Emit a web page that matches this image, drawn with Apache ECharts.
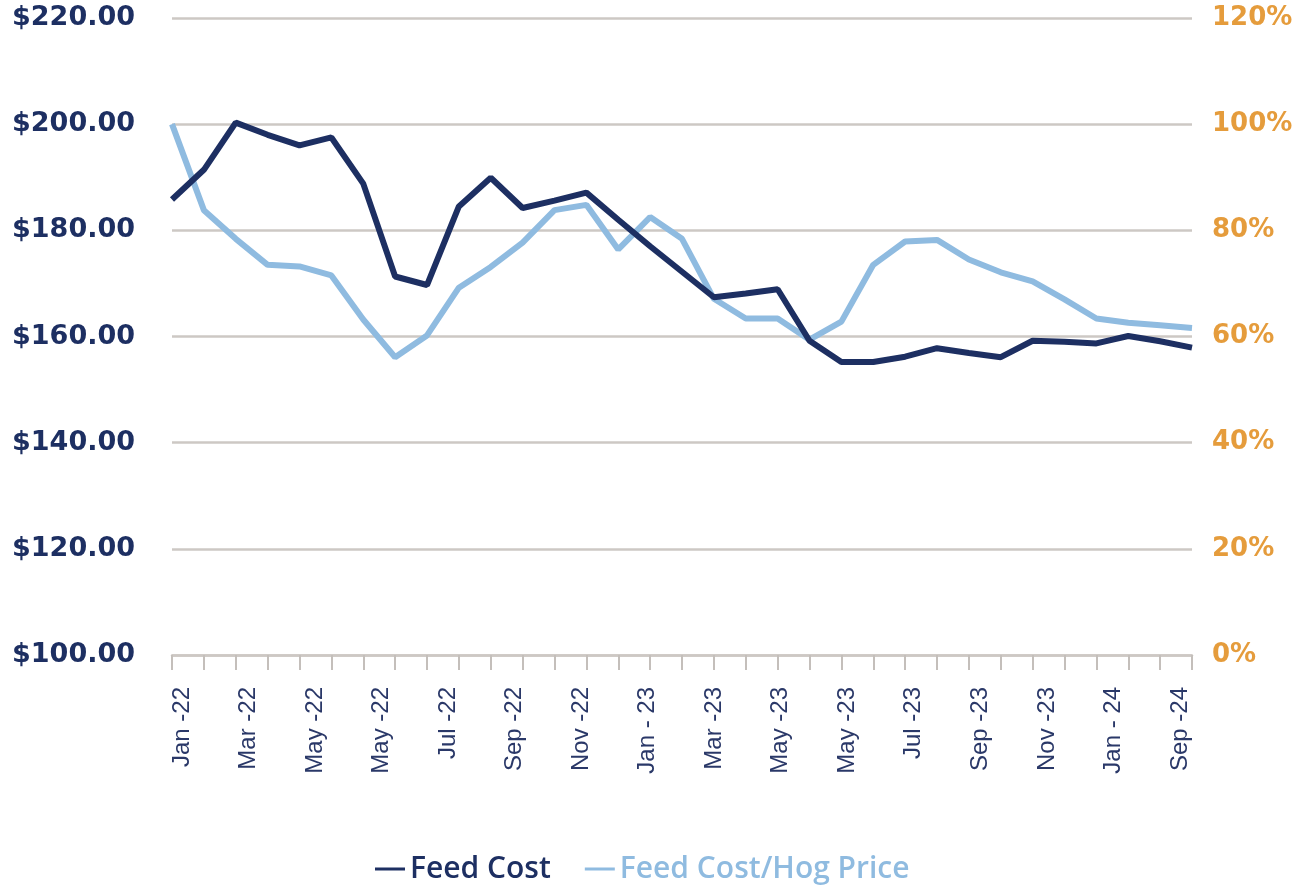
<!DOCTYPE html>
<html>
<head>
<meta charset="utf-8">
<script src="https://cdn.jsdelivr.net/npm/echarts@6/dist/echarts.min.js"></script>
<style>
html,body{margin:0;padding:0;background:#ffffff;}
#chart{width:1308px;height:889px;}
</style>
</head>
<body>
<div id="chart"></div>
<script>
// Monthly categories (Jan 2022 - Sep 2024)
const months = [
  'Jan-22','Feb-22','Mar-22','Apr-22','May-22','Jun-22','Jul-22','Aug-22','Sep-22','Oct-22','Nov-22','Dec-22',
  'Jan-23','Feb-23','Mar-23','Apr-23','May-23','Jun-23','Jul-23','Aug-23','Sep-23','Oct-23','Nov-23','Dec-23',
  'Jan-24','Feb-24','Mar-24','Apr-24','May-24','Jun-24','Jul-24','Aug-24','Sep-24'
];
// Tick labels as printed on the reference
const tickLabels = [
  'Jan -22','Mar -22','May -22','May -22','Jul -22','Sep -22','Nov -22','Jan - 23',
  'Mar -23','May -23','May -23','Jul -23','Sep -23','Nov -23','Jan - 24','Sep -24'
];
// Feed cost ($)
const feedCost = [
  185.8,191.4,200.3,198.0,196.0,197.5,188.8,171.3,169.7,184.5,189.9,184.2,
  185.6,187.1,182.0,177.0,172.2,167.4,168.1,168.9,159.2,155.2,155.2,156.2,
  157.8,156.9,156.1,159.2,159.0,158.7,160.1,159.1,157.9
];
// Feed cost / hog price (%)
const feedHogRatio = [
  100.0,83.8,78.4,73.5,73.2,71.5,63.2,56.1,60.2,69.2,73.1,77.7,
  83.8,84.8,76.4,82.5,78.4,67.1,63.4,63.4,59.4,62.8,73.5,77.9,
  78.2,74.5,72.1,70.4,67.0,63.4,62.6,62.1,61.6
];
const leftTicks = {min:100, max:220, interval:20};
const rightTicks = {min:0, max:120, interval:20};

const DARK = '#1d2f62';
const LIGHT = '#8fbbe0';
const ORANGE = '#e59c3c';
const GRID = '#cdc8c4';

const chart = echarts.init(document.getElementById('chart'), null, {renderer:'canvas'});
chart.setOption({
  animation:false,
  backgroundColor:'#ffffff',
  grid:[
    {left:172, right:116, top:18, bottom:234},
    {left:182, right:128, top:18, bottom:234}
  ],
  legend:{
    bottom:0, left:370,
    itemWidth:30, itemHeight:3, itemGap:34,
    icon:'rect',
    textStyle:{fontFamily:'Open Sans', fontWeight:600, fontSize:30, padding:[0,0,0,0]},
    data:[
      {name:'Feed Cost', textStyle:{color:DARK}},
      {name:'Feed Cost/Hog Price', textStyle:{color:LIGHT}}
    ]
  },
  xAxis:[
    {
      type:'category', gridIndex:0, data:months, boundaryGap:false,
      axisLine:{show:true, lineStyle:{color:GRID, width:2.5}},
      axisTick:{show:true, interval:0, length:15, lineStyle:{color:'#c4bfbb', width:2}},
      axisLabel:{show:false},
      splitLine:{show:false}
    },
    {
      type:'category', gridIndex:1, data:tickLabels, boundaryGap:false,
      axisLine:{show:false}, axisTick:{show:false}, splitLine:{show:false},
      axisLabel:{
        show:true, interval:0, rotate:90, margin:32,
        color:'#2a3868', fontFamily:'Liberation Sans', fontSize:24
      }
    }
  ],
  yAxis:[
    {
      type:'value', gridIndex:0, position:'left',
      min:leftTicks.min, max:leftTicks.max, interval:leftTicks.interval,
      axisLine:{show:false}, axisTick:{show:false},
      splitLine:{show:true, lineStyle:{color:GRID, width:2.5}},
      axisLabel:{
        margin:37, color:DARK, fontFamily:'DejaVu Sans', fontWeight:'bold', fontSize:27,
        formatter:v => '$' + v.toFixed(2)
      }
    },
    {
      type:'value', gridIndex:0, position:'right',
      min:rightTicks.min, max:rightTicks.max, interval:rightTicks.interval,
      axisLine:{show:false}, axisTick:{show:false}, splitLine:{show:false},
      axisLabel:{
        margin:20, color:ORANGE, fontFamily:'DejaVu Sans', fontWeight:'bold', fontSize:26,
        formatter:v => v + '%'
      }
    },
    {type:'value', gridIndex:1, show:false}
  ],
  series:[
    {
      name:'Feed Cost', type:'line', xAxisIndex:0, yAxisIndex:0,
      data:feedCost, symbol:'none', showSymbol:false,
      lineStyle:{color:DARK, width:6}, itemStyle:{color:DARK}, z:3
    },
    {
      name:'Feed Cost/Hog Price', type:'line', xAxisIndex:0, yAxisIndex:1,
      data:feedHogRatio, symbol:'none', showSymbol:false,
      lineStyle:{color:LIGHT, width:6}, itemStyle:{color:LIGHT}, z:2
    }
  ]
});
</script>
</body>
</html>
